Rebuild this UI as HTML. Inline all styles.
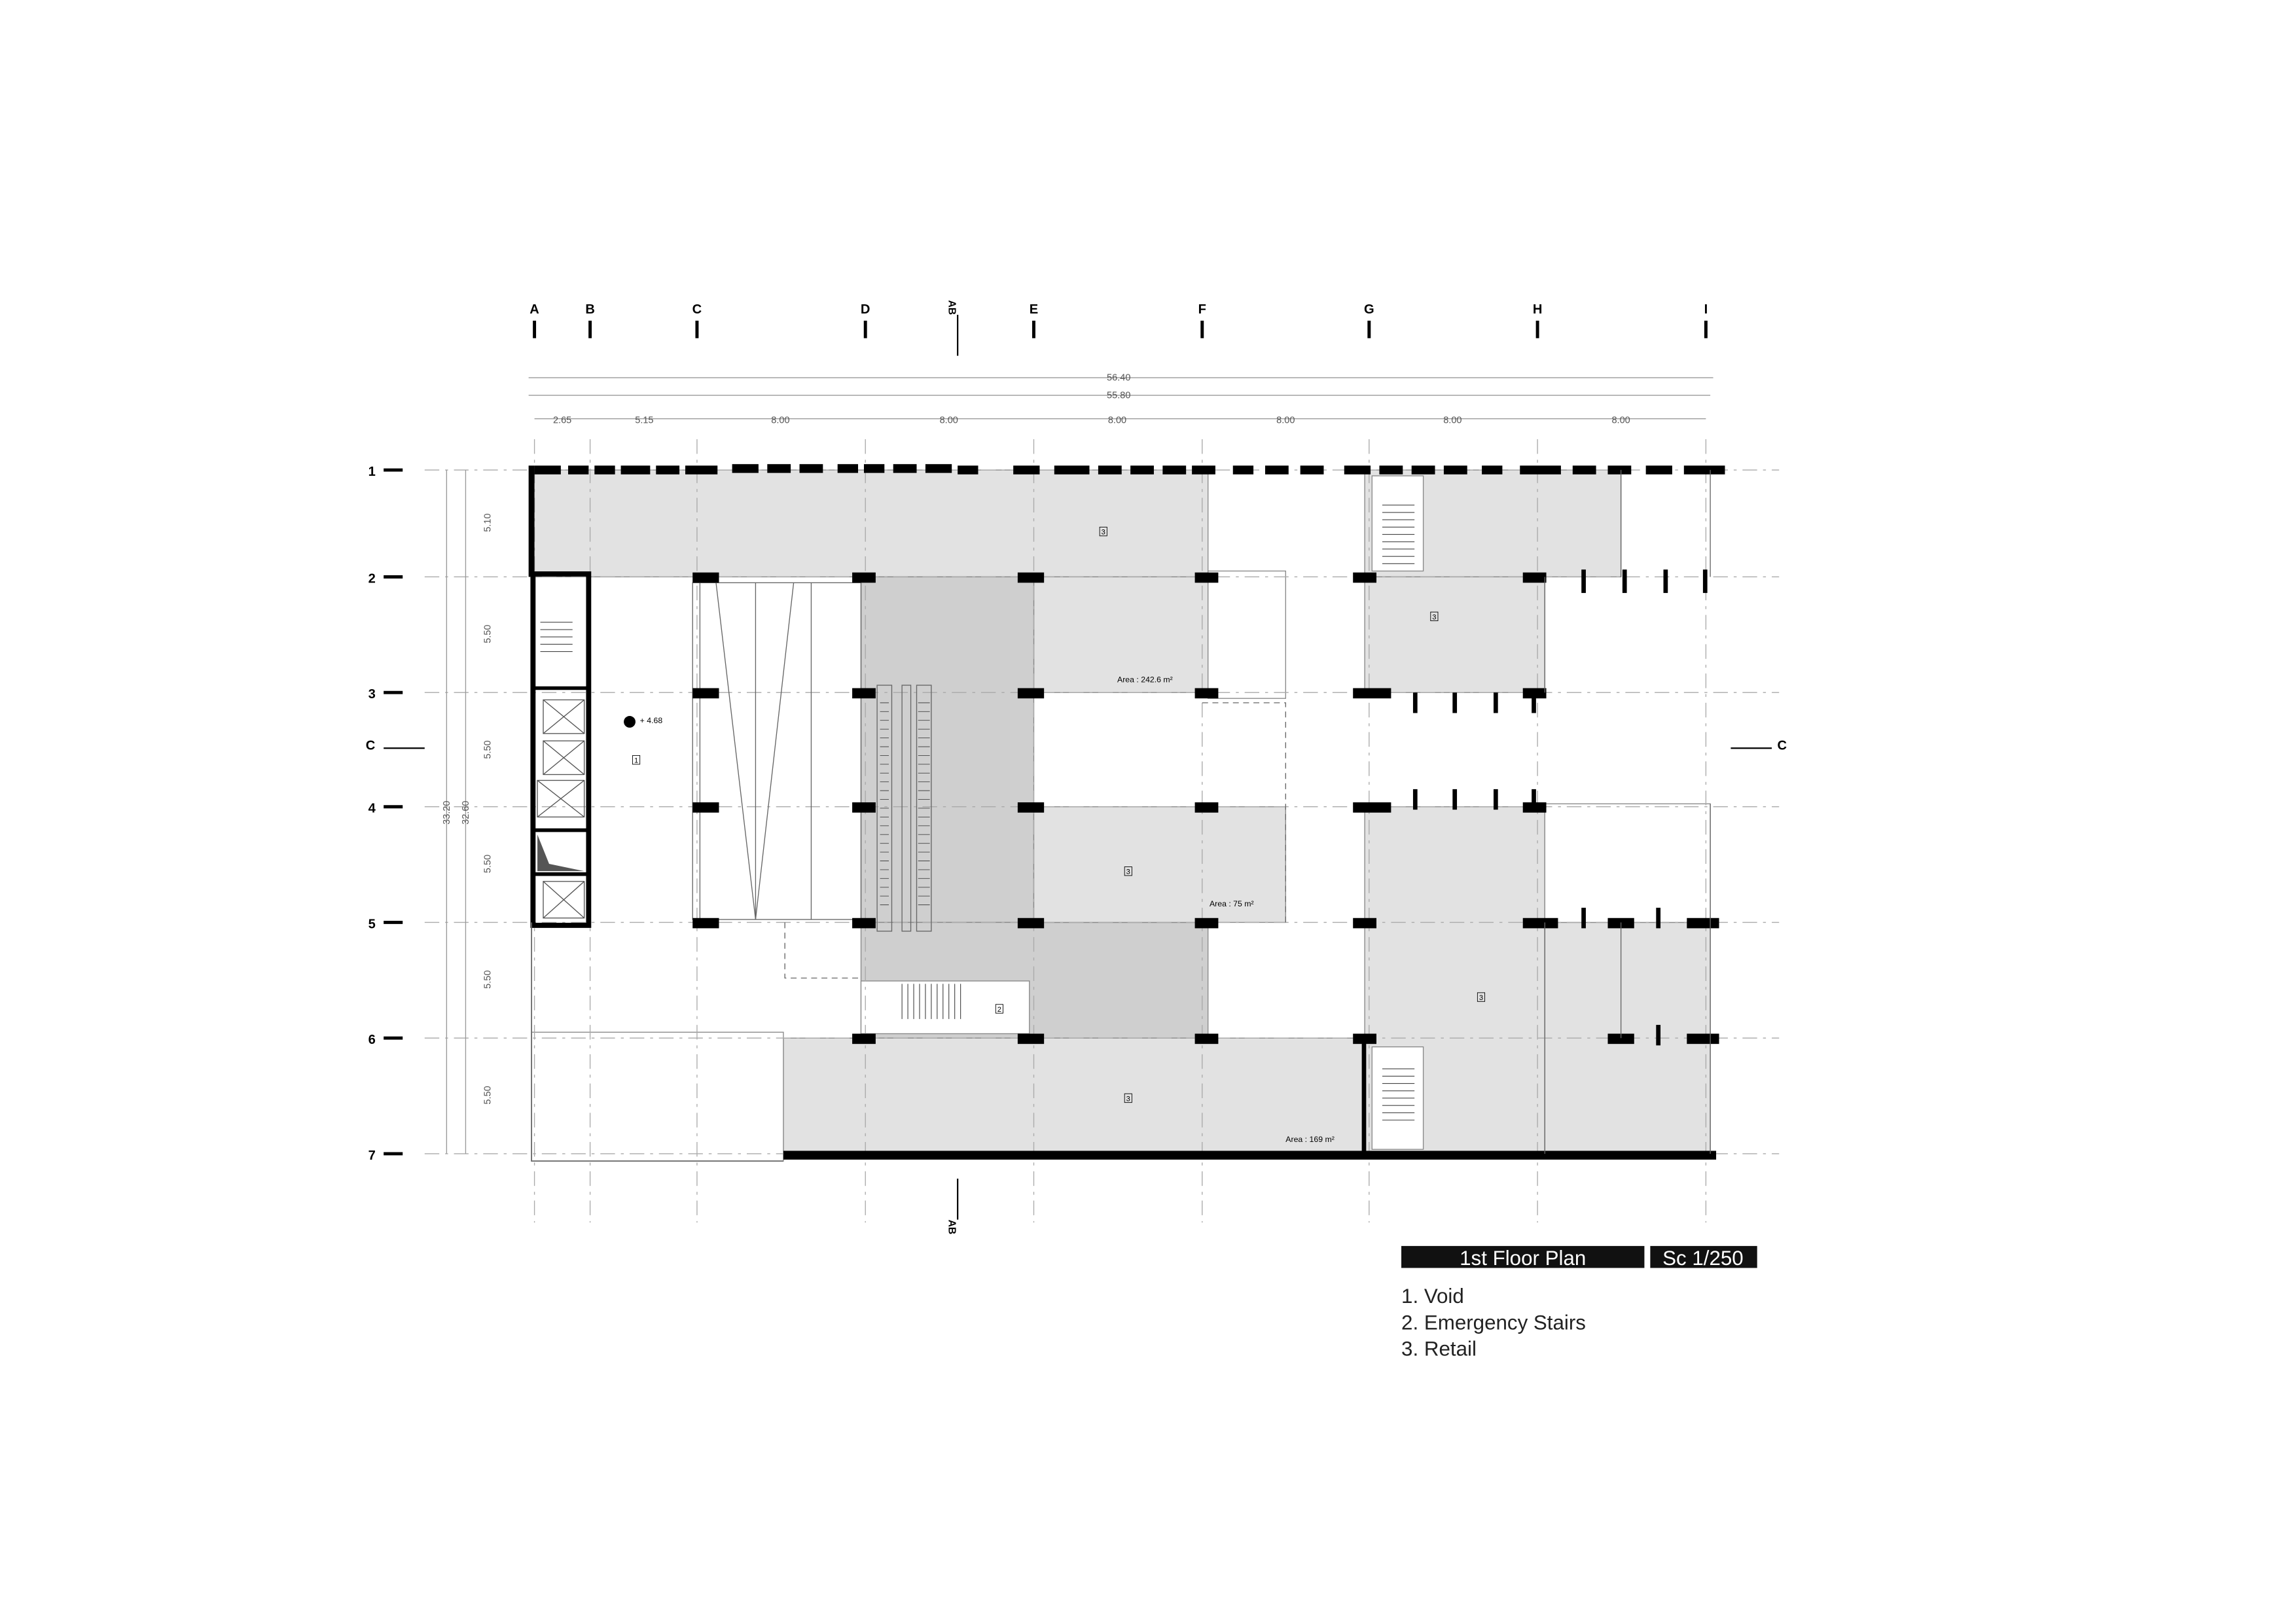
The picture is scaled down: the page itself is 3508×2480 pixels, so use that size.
<!DOCTYPE html>
<html><head><meta charset="utf-8"><style>
html,body{margin:0;padding:0;background:#fff}
svg{display:block}
text{font-family:"Liberation Sans",sans-serif}
</style></head><body>
<svg width="3508" height="2480" viewBox="0 0 1568 1108.5" preserveAspectRatio="none" xmlns="http://www.w3.org/2000/svg">
<rect width="1568" height="1109" fill="#fff"/>
<g stroke="#888" stroke-width="0.6">
<rect x="363" y="321" width="462" height="73" fill="#e2e2e2"/>
<rect x="932" y="321" width="175" height="73" fill="#e2e2e2"/>
<rect x="706" y="394" width="119" height="79" fill="#e2e2e2"/>
<rect x="588" y="394" width="118" height="236" fill="#cfcfcf"/>
<rect x="588" y="630" width="237" height="79" fill="#cfcfcf"/>
<rect x="706" y="551" width="172" height="79" fill="#e2e2e2"/>
<rect x="932" y="394" width="123" height="79" fill="#e2e2e2"/>
<rect x="932" y="551" width="123" height="237" fill="#e2e2e2"/>
<rect x="1055" y="630" width="113" height="158" fill="#e2e2e2"/>
<rect x="535" y="709" width="397" height="79" fill="#e2e2e2"/>
<rect x="363" y="705" width="172" height="88" fill="#fff"/>
<rect x="825" y="390" width="53" height="87" fill="#fff"/>
<rect x="1055" y="549" width="113" height="81" fill="#fff"/>
<rect x="588" y="670" width="115" height="36" fill="#fff"/>
<rect x="937" y="325" width="35" height="65" fill="#fff"/>
<rect x="937" y="715" width="35" height="70" fill="#fff"/>
</g>
<g stroke="#444" stroke-width="0.5">
<path d="M944 345h22M944 350h22M944 355h22M944 360h22M944 365h22M944 370h22M944 375h22M944 380h22M944 385h22"/>
<path d="M944 730h22M944 735h22M944 740h22M944 745h22M944 750h22M944 755h22M944 760h22M944 765h22"/>
<path d="M616 672v24M620 672v24M624 672v24M628 672v24M632 672v24M636 672v24M640 672v24M644 672v24M648 672v24M652 672v24M656 672v24"/>
<path d="M369 425h22M369 430h22M369 435h22M369 440h22M369 445h22"/>
</g>
<g stroke="#aaa" stroke-width="0.6" stroke-dasharray="10,4,2,4">
<path d="M290 321H1215M290 394H1215M290 473H1215M290 551H1215M290 630H1215M290 709H1215M290 788H1215"/>
<path d="M365 300V835M403 300V835M476 300V835M591 300V835M706 300V835M821 300V835M935 300V835M1050 300V835M1165 300V835"/>
</g>
<g stroke="#666" stroke-width="0.6" fill="none">
<rect x="473" y="398" width="115" height="230"/>
<line x1="478" y1="398" x2="478" y2="628"/>
<line x1="554" y1="398" x2="554" y2="628"/>
<path d="M489 398L516 628L542 398"/>
<line x1="516" y1="398" x2="516" y2="628"/>
<rect x="599" y="468" width="10" height="168"/><rect x="616" y="468" width="6" height="168"/>
<rect x="626" y="468" width="10" height="168"/>
<path d="M536 630v38h52" stroke-dasharray="4,3"/>
<path d="M821 480h57v150" stroke-dasharray="4,3"/>
</g>
<g stroke="#444" stroke-width="0.4">
<path d="M601 480h6M601 486h6M601 492h6M601 498h6M601 504h6M601 510h6M601 516h6M601 522h6M601 528h6M601 534h6M601 540h6M601 546h6M601 552h6M601 558h6M601 564h6M601 570h6M601 576h6M601 582h6M601 588h6M601 594h6M601 600h6M601 606h6M601 612h6M601 618h6"/>
<path d="M627 480h8M627 486h8M627 492h8M627 498h8M627 504h8M627 510h8M627 516h8M627 522h8M627 528h8M627 534h8M627 540h8M627 546h8M627 552h8M627 558h8M627 564h8M627 570h8M627 576h8M627 582h8M627 588h8M627 594h8M627 600h8M627 606h8M627 612h8M627 618h8"/>
</g>
<g fill="none" stroke="#000">
<rect x="364" y="392" width="38" height="240" stroke-width="3.5"/>
<path d="M364 470h38M364 567h38M364 597h38" stroke-width="2.5"/>
</g>
<g fill="none" stroke="#555" stroke-width="0.6">
<rect x="371" y="478" width="28" height="23"/><path d="M371 478l28 23M399 478l-28 23"/>
<rect x="371" y="506" width="28" height="23"/><path d="M371 506l28 23M399 506l-28 23"/>
<rect x="367" y="533" width="32" height="25"/><path d="M367 533l32 25M399 533l-32 25"/>
<rect x="371" y="602" width="28" height="25"/><path d="M371 602l28 25M399 602l-28 25"/>
</g>
<path d="M367 570L367 595L399 595L375 590Z" fill="#555"/>
<rect x="361" y="318" width="4" height="76" fill="#000"/>
<rect x="535" y="786" width="637" height="6" fill="#000"/>
<rect x="930" y="709" width="3" height="79" fill="#000"/>
<path d="M363 630V793H535" fill="none" stroke="#666" stroke-width="0.8"/>
<g fill="#000">
<rect x="365" y="318" width="18" height="6"/><rect x="388" y="318" width="14" height="6"/><rect x="406" y="318" width="14" height="6"/><rect x="424" y="318" width="20" height="6"/><rect x="448" y="318" width="16" height="6"/><rect x="468" y="318" width="22" height="6"/><rect x="500" y="317" width="18" height="6"/><rect x="524" y="317" width="16" height="6"/><rect x="546" y="317" width="16" height="6"/><rect x="572" y="317" width="14" height="6"/><rect x="590" y="317" width="14" height="6"/><rect x="610" y="317" width="16" height="6"/><rect x="632" y="317" width="18" height="6"/><rect x="654" y="318" width="14" height="6"/><rect x="692" y="318" width="18" height="6"/><rect x="720" y="318" width="24" height="6"/><rect x="750" y="318" width="16" height="6"/><rect x="772" y="318" width="16" height="6"/><rect x="794" y="318" width="16" height="6"/><rect x="814" y="318" width="16" height="6"/><rect x="842" y="318" width="14" height="6"/><rect x="864" y="318" width="16" height="6"/><rect x="888" y="318" width="16" height="6"/><rect x="918" y="318" width="18" height="6"/><rect x="942" y="318" width="16" height="6"/><rect x="964" y="318" width="16" height="6"/><rect x="986" y="318" width="16" height="6"/><rect x="1012" y="318" width="14" height="6"/><rect x="1038" y="318" width="28" height="6"/><rect x="1074" y="318" width="16" height="6"/><rect x="1098" y="318" width="16" height="6"/><rect x="1124" y="318" width="18" height="6"/><rect x="1150" y="318" width="28" height="6"/>
</g>
<g fill="#000">
<rect x="473" y="391" width="18" height="7"/><rect x="582" y="391" width="16" height="7"/><rect x="695" y="391" width="18" height="7"/><rect x="816" y="391" width="16" height="7"/><rect x="924" y="391" width="16" height="7"/><rect x="1040" y="391" width="16" height="7"/>
<rect x="473" y="470" width="18" height="7"/><rect x="582" y="470" width="16" height="7"/><rect x="695" y="470" width="18" height="7"/><rect x="816" y="470" width="16" height="7"/><rect x="924" y="470" width="26" height="7"/><rect x="1040" y="470" width="16" height="7"/>
<rect x="473" y="548" width="18" height="7"/><rect x="582" y="548" width="16" height="7"/><rect x="695" y="548" width="18" height="7"/><rect x="816" y="548" width="16" height="7"/><rect x="924" y="548" width="26" height="7"/><rect x="1040" y="548" width="16" height="7"/>
<rect x="473" y="627" width="18" height="7"/><rect x="582" y="627" width="16" height="7"/><rect x="695" y="627" width="18" height="7"/><rect x="816" y="627" width="16" height="7"/><rect x="924" y="627" width="16" height="7"/><rect x="1040" y="627" width="24" height="7"/><rect x="1098" y="627" width="18" height="7"/><rect x="1152" y="627" width="22" height="7"/>
<rect x="582" y="706" width="16" height="7"/><rect x="695" y="706" width="18" height="7"/><rect x="816" y="706" width="16" height="7"/><rect x="924" y="706" width="16" height="7"/><rect x="1098" y="706" width="18" height="7"/><rect x="1152" y="706" width="22" height="7"/>
<rect x="1080" y="389" width="3" height="16"/><rect x="1108" y="389" width="3" height="16"/><rect x="1136" y="389" width="3" height="16"/><rect x="1163" y="389" width="3" height="16"/>
<rect x="965" y="473" width="3" height="14"/><rect x="992" y="473" width="3" height="14"/><rect x="1020" y="473" width="3" height="14"/><rect x="1046" y="473" width="3" height="14"/>
<rect x="965" y="539" width="3" height="14"/><rect x="992" y="539" width="3" height="14"/><rect x="1020" y="539" width="3" height="14"/><rect x="1046" y="539" width="3" height="14"/>
<rect x="1080" y="620" width="3" height="14"/><rect x="1131" y="620" width="3" height="14"/><rect x="1131" y="700" width="3" height="14"/>
</g>
<g stroke="#666" stroke-width="0.6" fill="none"><path d="M1107 321v73M1168 321v73M1055 394v79M1107 630v79M1168 549v239M1055 630v158"/></g>
<g font-size="5.5" fill="#000">
<text x="763" y="466">Area : 242.6 m²</text>
<text x="826" y="619">Area : 75 m²</text>
<text x="878" y="780">Area : 169 m²</text>
<text x="437" y="494">+ 4.68</text>
</g>
<g font-size="5" fill="#000" text-anchor="middle">
<rect x="751" y="360" width="5" height="6" fill="none" stroke="#000" stroke-width="0.4"/><text x="753.5" y="365">3</text>
<rect x="977" y="418" width="5" height="6" fill="none" stroke="#000" stroke-width="0.4"/><text x="979.5" y="423">3</text>
<rect x="768" y="592" width="5" height="6" fill="none" stroke="#000" stroke-width="0.4"/><text x="770.5" y="597">3</text>
<rect x="1009" y="678" width="5" height="6" fill="none" stroke="#000" stroke-width="0.4"/><text x="1011.5" y="683">3</text>
<rect x="768" y="747" width="5" height="6" fill="none" stroke="#000" stroke-width="0.4"/><text x="770.5" y="752">3</text>
<rect x="680" y="686" width="5" height="6" fill="none" stroke="#000" stroke-width="0.4"/><text x="682.5" y="691">2</text>
<rect x="432" y="516" width="5" height="6" fill="none" stroke="#000" stroke-width="0.4"/><text x="434.5" y="521">1</text>
</g>
<circle cx="430" cy="493" r="4" fill="#000"/>
<g font-size="9" font-weight="bold" text-anchor="middle" fill="#000">
<text x="365" y="214">A</text><text x="403" y="214">B</text><text x="476" y="214">C</text><text x="591" y="214">D</text><text x="706" y="214">E</text><text x="821" y="214">F</text><text x="935" y="214">G</text><text x="1050" y="214">H</text><text x="1165" y="214">I</text>
<text x="254" y="325">1</text><text x="254" y="398">2</text><text x="254" y="477">3</text><text x="254" y="555">4</text><text x="254" y="634">5</text><text x="254" y="713">6</text><text x="254" y="792">7</text>
<text x="253" y="512">C</text><text x="1217" y="512">C</text>
</g>
<g stroke="#000" stroke-width="2.2">
<path d="M365 219v12M403 219v12M476 219v12M591 219v12M706 219v12M821 219v12M935 219v12M1050 219v12M1165 219v12"/>
<path d="M262 321h13M262 394h13M262 473h13M262 551h13M262 630h13M262 709h13M262 788h13"/>
</g>
<g stroke="#000" stroke-width="1"><path d="M654 215v28M654 805v28M262 511h28M1182 511h28"/></g>
<g font-size="7" font-weight="bold" fill="#000"><text x="649" y="212" transform="rotate(90 652 208)">AB</text><text x="649" y="840" transform="rotate(90 652 836)">AB</text></g>
<g stroke="#999" stroke-width="0.6"><path d="M361 258H1170M361 270H1168M365 286H1165M305 321V788M318 321V788"/></g>
<g font-size="6.5" fill="#555" text-anchor="middle">
<text x="764" y="260">56.40</text><text x="764" y="272">55.80</text>
<text x="384" y="289">2.65</text><text x="440" y="289">5.15</text><text x="533" y="289">8.00</text><text x="648" y="289">8.00</text><text x="763" y="289">8.00</text><text x="878" y="289">8.00</text><text x="992" y="289">8.00</text><text x="1107" y="289">8.00</text>
</g>
<g font-size="6.5" fill="#555" text-anchor="middle">
<text transform="translate(335 357) rotate(-90)">5.10</text><text transform="translate(335 433) rotate(-90)">5.50</text><text transform="translate(335 512) rotate(-90)">5.50</text><text transform="translate(335 590) rotate(-90)">5.50</text><text transform="translate(335 669) rotate(-90)">5.50</text><text transform="translate(335 748) rotate(-90)">5.50</text>
<text transform="translate(307 555) rotate(-90)">33.20</text><text transform="translate(320 555) rotate(-90)">32.60</text>
</g>
<rect x="957" y="851" width="166" height="15" fill="#111"/>
<rect x="1127" y="851" width="73" height="15" fill="#111"/>
<text x="1040" y="864" font-size="14" fill="#fff" text-anchor="middle">1st Floor Plan</text>
<text x="1163" y="864" font-size="14" fill="#fff" text-anchor="middle">Sc 1/250</text>
<g font-size="14" fill="#222"><text x="957" y="890">1. Void</text><text x="957" y="908">2. Emergency Stairs</text><text x="957" y="926">3. Retail</text></g>
</svg>
</body></html>
